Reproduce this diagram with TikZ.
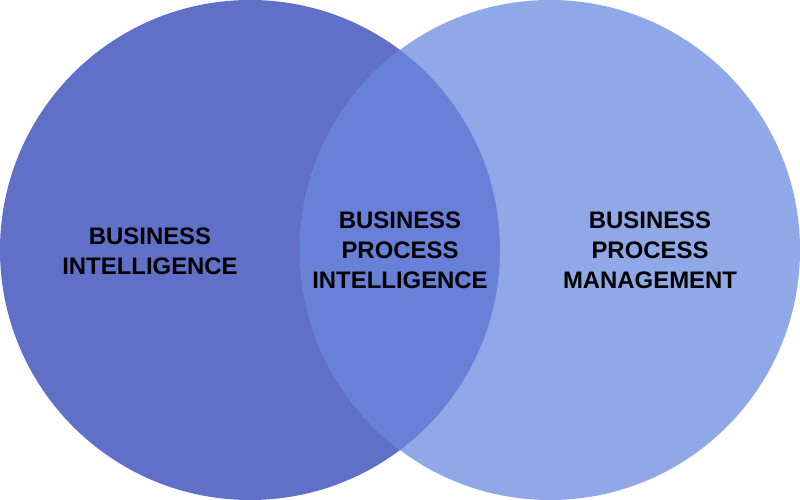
\documentclass[tikz,border=0pt]{standalone}
\usepackage{fontspec}
\setmainfont{Liberation Sans}
\usetikzlibrary{positioning}
\definecolor{leftblue}{RGB}{96,112,200}
\definecolor{rightblue}{RGB}{144,168,232}
\definecolor{midblue}{RGB}{104,128,216}

\begin{document}
\begin{tikzpicture}[x=1bp, y=-1bp, set/.style = {circle, minimum size=500bp, inner sep=0pt}, label/.style = {align=center, font=\fontsize{24}{30}\selectfont\bfseries, text=black}]
            \useasboundingbox (0,0) rectangle (800,500);
            \node[set, fill=leftblue] (bi) at (250,250) {};
            \node[set, fill=rightblue] (bpm) at (550,250) {};
            \begin{scope}
                \clip (250,250) circle (250);
                \fill[midblue] (550,250) circle (250);
            \end{scope}
            \node[label] (bit) at (150,251) {BUSINESS\\INTELLIGENCE};
            \node[label] (bpit) at (400,250) {BUSINESS\\PROCESS\\INTELLIGENCE};
            \node[label] (bpmt) at (650,250) {BUSINESS\\PROCESS\\MANAGEMENT};
        \end{tikzpicture}
\end{document}
